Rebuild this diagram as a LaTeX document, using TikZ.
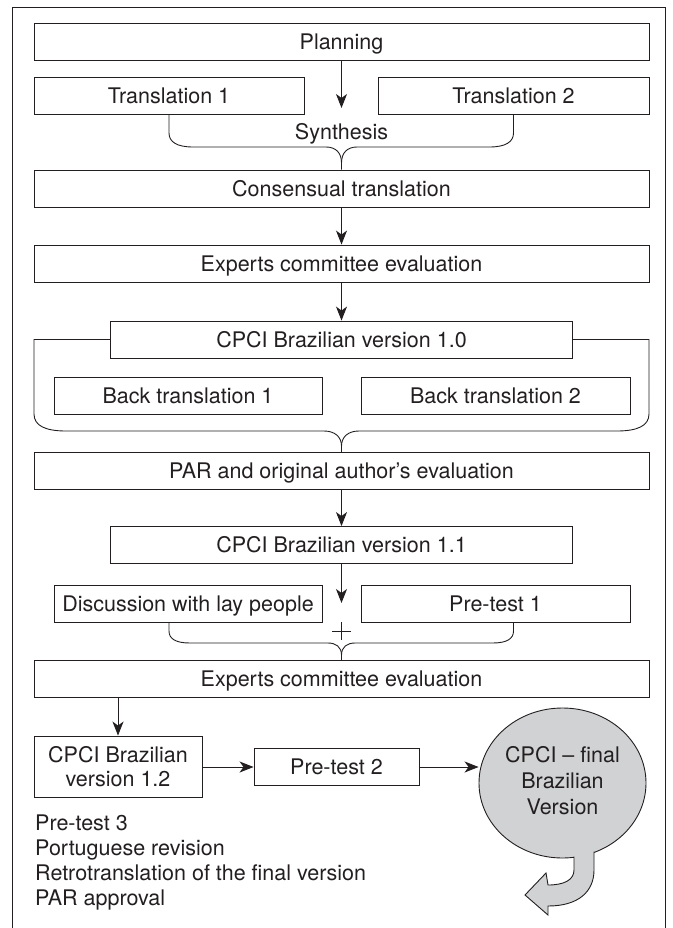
\documentclass[tikz,border=0pt]{standalone}
\usepackage{fontspec}
\setmainfont{TeX Gyre Heros}
\usetikzlibrary{arrows.meta,shapes.geometric,calc}
\definecolor{ink}{HTML}{231F20}
\definecolor{ellgray}{HTML}{D1D2D4}
\begin{document}
\begin{tikzpicture}[x=1pt,y=-1pt,
  font=\fontsize{21.5}{25}\selectfont,
  every node/.style={text=ink},
  ln/.style={draw=ink,line width=0.9pt},
  bx/.style={ln,inner sep=0pt,minimum height=37pt},
  box/.style={bx,text height=15.4pt,text depth=0pt},
  lbl/.style={inner sep=0pt,text height=15.4pt,text depth=0pt},
  arr/.style={ln,-{Stealth[length=14pt,width=11pt,inset=4pt]}}]
\useasboundingbox (0,0) rectangle (672,928);
% outer frame (its bottom edge lies outside the picture)
\draw[ln] (12,930) -- (12,7) -- (665,7) -- (665,930);
% boxes
\node[box,minimum width=615pt] (plan) at (341.5,41.5) {Planning};
\node[box,minimum width=270pt] (t1) at (169,96) {Translation 1};
\node[box,minimum width=271pt] (t2) at (513.5,96) {Translation 2};
\node[lbl] (syn) at (341.5,132) {Synthesis};
\node[box,minimum width=615pt] (cons) at (341.5,188.5) {Consensual translation};
\node[box,minimum width=615pt] (exp1) at (341.5,263.5) {Experts committee evaluation};
\node[box,minimum width=462pt] (v10) at (341.5,339.5) {CPCI Brazilian version 1.0};
\node[box,minimum width=268pt] (bt1) at (188,395.5) {Back translation 1};
\node[box,minimum width=269pt] (bt2) at (495.5,395.5) {Back translation 2};
\node[box,minimum width=615pt] (par) at (341.5,471) {PAR and original author’s evaluation};
\node[box,minimum width=462pt] (v11) at (341.5,545) {CPCI Brazilian version 1.1};
\node[box,minimum width=268pt] (disc) at (188,603.5) {Discussion with lay people};
\node[box,minimum width=269pt] (pt1) at (495.5,603.5) {Pre-test 1};
\node[box,minimum width=615pt] (exp2) at (341.5,679) {Experts committee evaluation};
\node[bx,minimum width=168pt,minimum height=61pt,align=center,font=\fontsize{21.5}{24}\selectfont] (v12) at (118,766.5) {CPCI Brazilian\\version 1.2};
\node[box,minimum width=165pt] (pt2) at (336.5,767) {Pre-test 2};
\node[ellipse,ln,fill=ellgray,inner sep=0pt,minimum width=167pt,minimum height=150pt,align=center,text depth=6pt,font=\fontsize{21.5}{26}\selectfont] (fin) at (562.5,783) {CPCI – final\\Brazilian\\Version};
\node[anchor=north west,inner sep=0pt,align=left] (notes) at (35,814.6) {Pre-test 3\\Portuguese revision\\Retrotranslation of the final version\\PAR approval};
% tail of the final bubble
\fill[ellgray] (574,845) -- (574,870) .. controls (574,880) and (564,885) .. (548,885) -- (546,873) -- (525,895) -- (548,915) -- (548,906) .. controls (578,906) and (594,892) .. (594,870) -- (594,845) -- cycle;
\draw[ln,line join=miter] (574,856.5) -- (574,870) .. controls (574,880) and (564,885) .. (548,885) -- (546,873) -- (525,895) -- (548,915) -- (548,906) .. controls (578,906) and (594,892) .. (594,870) -- (594,851.5);
% arrows
\coordinate (a1) at (341.5,108);
\draw[arr] (plan.south) -- (a1);
\draw[arr] (cons.south) -- (exp1.north);
\draw[arr] (exp1.south) -- (v10.north);
\draw[arr] (par.south) -- (v11.north);
\coordinate (a2) at (341.5,603);
\draw[arr] (v11.south) -- (a2);
\draw[arr] (v12.north |- exp2.south) -- (v12.north);
\draw[arr] (v12.east |- pt2.west) -- (pt2.west);
\draw[arr] (pt2.east) -- (fin.west |- pt2.east);
% synthesis brace
\draw[ln] (t1.south) -- (169,133) .. controls (169,142) and (177,147) .. (193,147) -- (326,147) .. controls (336,147) and (341.5,153) .. (341.5,163) -- (cons.north);
\draw[ln] (t2.south) -- (513.5,133) .. controls (513.5,142) and (505.5,147) .. (489.5,147) -- (357,147) .. controls (347,147) and (341.5,153) .. (341.5,163);
% back translation bracket
\draw[ln] (v10.west) -- (34,339.5) -- (34,414) .. controls (34,426) and (46,431) .. (66,431) -- (324,431) .. controls (335,431) and (341.5,437) .. (341.5,446) -- (par.north);
\draw[ln] (v10.east) -- (649,339.5) -- (649,414) .. controls (649,426) and (637,431) .. (617,431) -- (359,431) .. controls (348,431) and (341.5,437) .. (341.5,446);
% plus and lower brace
\draw[ln] (332,631) -- (351,631) (341.5,622) -- (341.5,640);
\draw[ln] (t1.south |- disc.south) -- (169,631) .. controls (169,639) and (176,643) .. (190,643) -- (328,643) .. controls (336,643) and (341.5,647) .. (341.5,655) -- (exp2.north);
\draw[ln] (t2.south |- pt1.south) -- (513.5,631) .. controls (513.5,639) and (506.5,643) .. (492.5,643) -- (355,643) .. controls (347,643) and (341.5,647) .. (341.5,655);
\end{tikzpicture}
\end{document}
